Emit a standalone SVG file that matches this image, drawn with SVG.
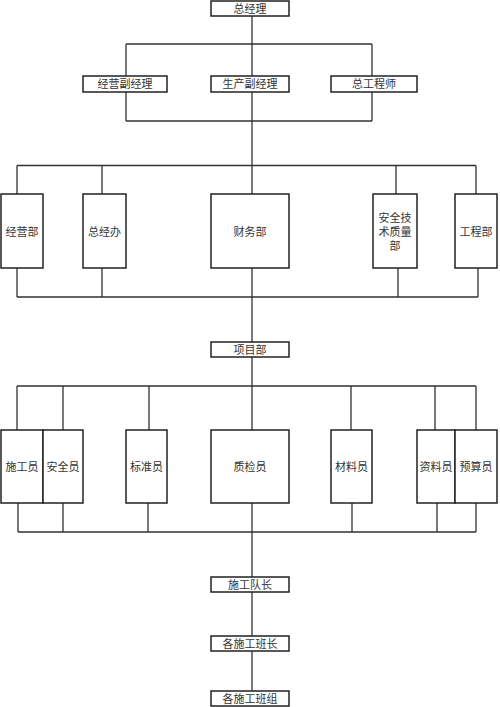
<svg xmlns="http://www.w3.org/2000/svg" width="500" height="707" viewBox="0 0 500 707">
<style>
.box{fill:#fff;stroke:#222;stroke-width:1.5}
.ln{fill:none;stroke:#333;stroke-width:1.3}
.t{font-family:"Liberation Serif","Noto Sans CJK SC",serif;font-size:11px;fill:#333;text-anchor:middle;dominant-baseline:central}
</style>
<rect width="500" height="707" fill="#fff"/>
<g id="connectors" class="ln">
<path d="M252 16V76M126 44H372M126 44V76M372 44V76"/>
<path d="M126 92V121M252 92V194M372 92V121M126 121H372"/>
<path d="M17 165.5H476M17 165.5V194M102 165.5V194M396 165.5V194M476 165.5V194"/>
<path d="M17 268V297M102 268V297M252 268V342M398 268V297M478 268V297M17 297H478"/>
<path d="M252 357V430M17 386H476M17 386V430M63 386V430M149 386V430M351 386V430M435 386V430M476 386V430"/>
<path d="M18 503V532M63 503V532M148 503V532M252 503V577M352 503V532M437 503V532M476 503V532M18 532H476"/>
<path d="M252 592V636M252 651V691"/>
</g>
<g id="n-zjl"><rect class="box" x="211" y="1" width="78" height="15"/><text class="t" x="250" y="8.5">总经理</text></g>
<g id="n-jyfjl"><rect class="box" x="83" y="76" width="84" height="16"/><text class="t" x="125" y="84">经营副经理</text></g>
<g id="n-scfjl"><rect class="box" x="211" y="76" width="78" height="16"/><text class="t" x="250" y="84">生产副经理</text></g>
<g id="n-zgcs"><rect class="box" x="331" y="76" width="86" height="16"/><text class="t" x="374" y="84">总工程师</text></g>
<g id="n-jyb"><rect class="box" x="1" y="194" width="42" height="74"/><text class="t" x="22" y="232">经营部</text></g>
<g id="n-zjb"><rect class="box" x="83" y="194" width="43" height="74"/><text class="t" x="104.5" y="232">总经办</text></g>
<g id="n-cwb"><rect class="box" x="211" y="194" width="78" height="74"/><text class="t" x="250" y="232">财务部</text></g>
<g id="n-aqjs"><rect class="box" x="373" y="194" width="44" height="74"/><text class="t" x="395" y="218">安全技</text><text class="t" x="395" y="232">术质量</text><text class="t" x="395" y="246">部</text></g>
<g id="n-gcb"><rect class="box" x="455" y="194" width="42" height="74"/><text class="t" x="476" y="232">工程部</text></g>
<g id="n-xmb"><rect class="box" x="211" y="342" width="78" height="15"/><text class="t" x="250" y="349.5">项目部</text></g>
<g id="n-sgy"><rect class="box" x="1" y="430" width="42" height="73"/><text class="t" x="22" y="467">施工员</text></g>
<g id="n-aqy"><rect class="box" x="43" y="430" width="40" height="73"/><text class="t" x="63" y="467">安全员</text></g>
<g id="n-bzy"><rect class="box" x="126" y="430" width="41" height="73"/><text class="t" x="146.5" y="467">标准员</text></g>
<g id="n-zjy"><rect class="box" x="211" y="430" width="78" height="73"/><text class="t" x="250" y="467">质检员</text></g>
<g id="n-cly"><rect class="box" x="331" y="430" width="41" height="73"/><text class="t" x="351.5" y="467">材料员</text></g>
<g id="n-zly"><rect class="box" x="417" y="430" width="38" height="73"/><text class="t" x="436" y="467">资料员</text></g>
<g id="n-ysy"><rect class="box" x="455" y="430" width="42" height="73"/><text class="t" x="476" y="467">预算员</text></g>
<g id="n-sgdz"><rect class="box" x="211" y="577" width="78" height="15"/><text class="t" x="250" y="584.5">施工队长</text></g>
<g id="n-gbz"><rect class="box" x="211" y="636" width="78" height="15"/><text class="t" x="250" y="643.5">各施工班长</text></g>
<g id="n-gbzu"><rect class="box" x="211" y="691" width="78" height="15"/><text class="t" x="250" y="698.5">各施工班组</text></g>
</svg>
